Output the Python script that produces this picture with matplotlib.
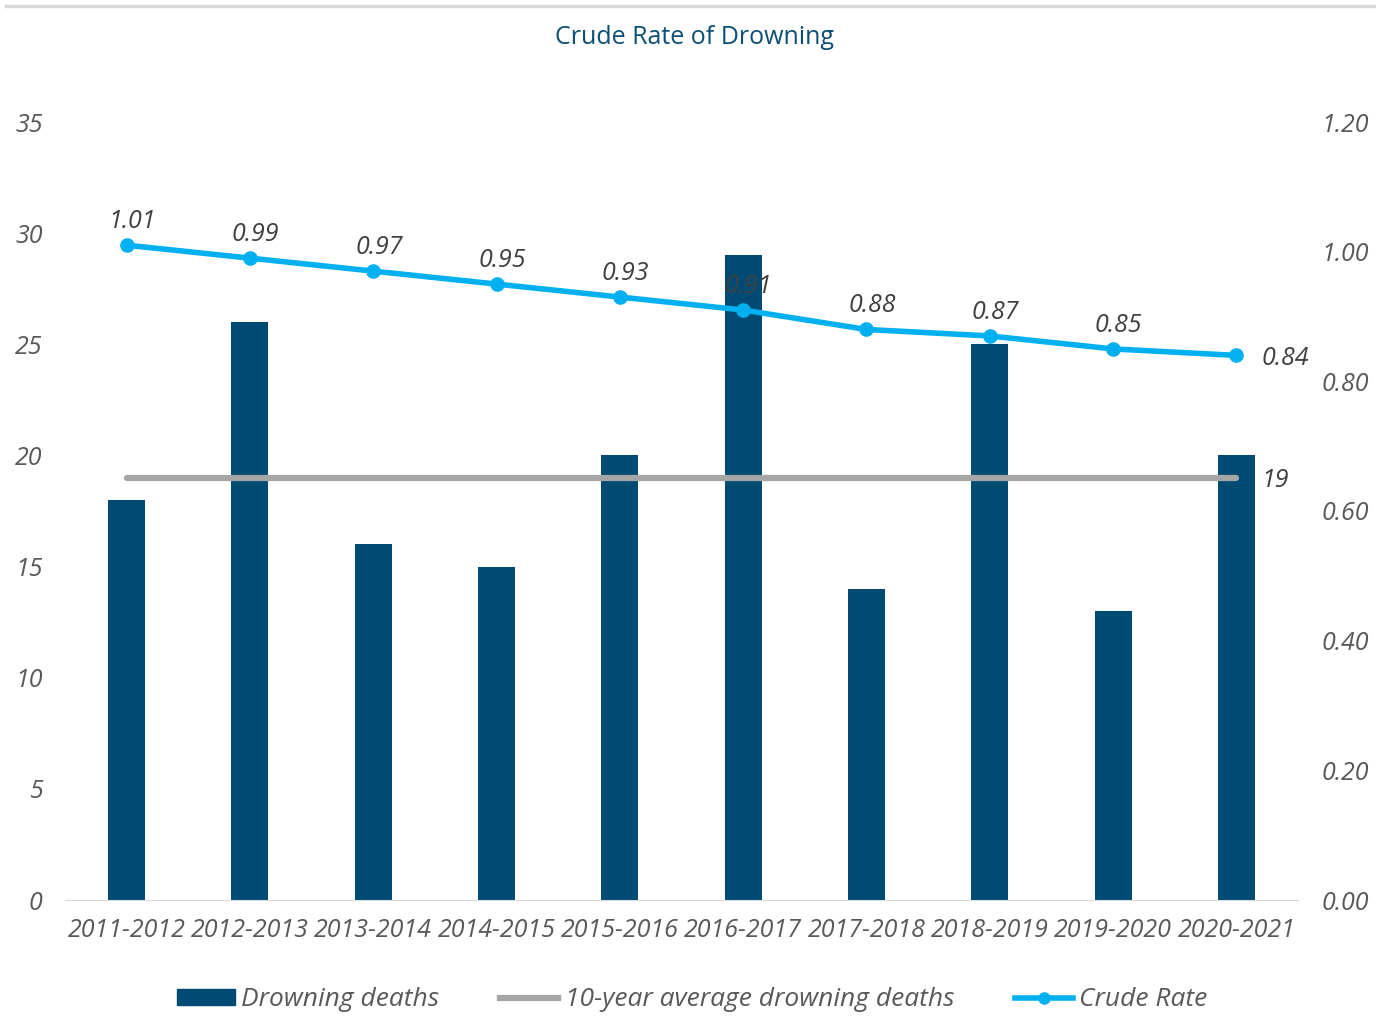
import matplotlib.pyplot as plt
from matplotlib.lines import Line2D
from matplotlib.patches import Patch

years = ["2011-2012", "2012-2013", "2013-2014", "2014-2015", "2015-2016",
         "2016-2017", "2017-2018", "2018-2019", "2019-2020", "2020-2021"]
deaths = [18, 26, 16, 15, 20, 29, 14, 25, 13, 20]
crude_rate = [1.01, 0.99, 0.97, 0.95, 0.93, 0.91, 0.88, 0.87, 0.85, 0.84]
ten_year_avg = 19

BAR = "#004B73"
CYAN = "#00B0F0"
GREY_LINE = "#A6A6A6"
TEXT = "#595959"
LABEL = "#404040"

plt.rcParams["font.family"] = ["Open Sans", "DejaVu Sans"]

fig = plt.figure(figsize=(13.76, 10.16), dpi=100)
ax = fig.add_axes([65 / 1376, 116 / 1016, 1233 / 1376, 778 / 1016])
x = list(range(len(years)))

ax.bar(x, deaths, width=0.3, color=BAR, zorder=2)
ax.plot(x, [ten_year_avg] * len(x), color=GREY_LINE, lw=4.5,
        solid_capstyle="round", zorder=3)
ax.annotate(str(ten_year_avg), (x[-1], ten_year_avg), xytext=(18, -2),
            textcoords="offset points", ha="left", va="center",
            fontsize=18, style="italic", color=LABEL)

ax.set_xlim(-0.5, len(years) - 0.5)
ax.set_ylim(0, 35)
ax.set_yticks(range(0, 36, 5))
ax.set_xticks(x, years)

ax2 = ax.twinx()
ax2.plot(x, crude_rate, color=CYAN, lw=4, marker="o", ms=9.5,
         solid_capstyle="round", zorder=4)
ax2.set_ylim(0, 1.2)
ax2.set_yticks([i * 0.2 for i in range(7)])
ax2.set_yticklabels([f"{i * 0.2:.2f}" for i in range(7)])

for i, v in enumerate(crude_rate):
    if i == len(crude_rate) - 1:
        ax2.annotate(f"{v:.2f}", (i, v), xytext=(18, -2), textcoords="offset points",
                     ha="left", va="center", fontsize=18, style="italic", color=LABEL)
    else:
        ax2.annotate(f"{v:.2f}", (i, v), xytext=(4, 8), textcoords="offset points",
                     ha="center", va="bottom", fontsize=18, style="italic", color=LABEL)

for a in (ax, ax2):
    for side in ("top", "left", "right", "bottom"):
        a.spines[side].set_visible(False)
    a.tick_params(length=0, labelsize=18, labelcolor=TEXT)
    for lbl in a.get_xticklabels() + a.get_yticklabels():
        lbl.set_style("italic")
ax.spines["bottom"].set_visible(True)
ax.spines["bottom"].set_color("#D9D9D9")
ax.tick_params(axis="y", pad=16)
ax.tick_params(axis="x", pad=13)
ax2.tick_params(axis="y", pad=17)

fig.text(0.505, 1 - 37 / 1016, "Crude Rate of Drowning", ha="center", va="center",
         fontsize=18, color="#0B4F74")
fig.add_artist(Line2D([6 / 1376, 1], [1 - 6 / 1016, 1 - 6 / 1016],
                      color="#D9D9D9", lw=2.5))

handles = [
    Patch(color=BAR),
    Line2D([], [], color=GREY_LINE, lw=4.5),
    Line2D([], [], color=CYAN, lw=4, marker="o", ms=8),
]
labels = ["Drowning deaths", "10-year average drowning deaths", "Crude Rate"]
leg = fig.legend(handles, labels, loc="center", bbox_to_anchor=(0.503, 1 - 1000 / 1016),
                 ncol=3, frameon=False, fontsize=19, handlelength=2.2,
                 handleheight=0.55, handletextpad=0.25, columnspacing=2.3)
for t in leg.get_texts():
    t.set_color(TEXT)
    t.set_style("italic")

fig.savefig("out.png", dpi=100)
